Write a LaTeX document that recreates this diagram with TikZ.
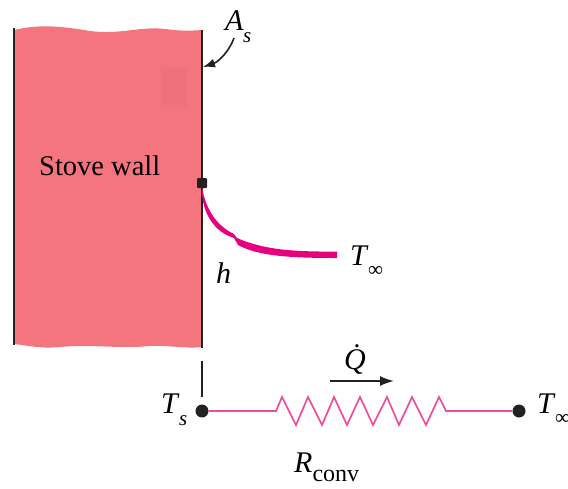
\documentclass[tikz,border=0pt]{standalone}
\usepackage{fontspec}
\setmainfont{Liberation Serif}
\usetikzlibrary{arrows.meta}
\definecolor{wallpink}{HTML}{F5757F}
\definecolor{magentaline}{HTML}{E6007E}
\definecolor{resline}{HTML}{EE4D9B}
\definecolor{inkline}{HTML}{222222}
\newcommand{\symb}[3][-0.3em]{\textit{#2}\kern-0.02em\raisebox{#1}{\fontsize{21}{21}\selectfont #3}}
\tikzset{
  lab/.style={inner sep=0pt,font=\fontsize{30}{30}\selectfont,anchor=base west},
  wallline/.style={draw=inkline,line width=2pt},
  dotnode/.style={circle,fill=inkline,inner sep=0pt,minimum size=#1},
  resistor/.style={draw=resline,line width=1.7pt,line join=miter},
  flow/.style={draw=inkline,line width=1.8pt,-{Latex[length=14pt,width=10pt]}}
}
\begin{document}
\begin{tikzpicture}[x=1pt,y=-1pt]
\useasboundingbox (0,0) rectangle (568,488);
% wall
\fill[wallpink] (14,30) .. controls (40,24) and (60,26) .. (90,31)
  .. controls (120,35) and (140,26) .. (165,29) .. controls (180,31) and (190,31) .. (202,30)
  -- (202,347) .. controls (185,349) and (170,345) .. (150,346)
  .. controls (120,349) and (90,344) .. (60,347) .. controls (40,349) and (25,345) .. (14,344) -- cycle;
\fill[wallpink!97!black] (161,68) rectangle (187,107);
\coordinate (wallTL) at (14,28);
\coordinate (wallBL) at (14,345);
\coordinate (wallTR) at (202,30);
\coordinate (wallBR) at (202,348);
\draw[wallline] (wallTL) -- (wallBL);
\draw[wallline] (wallTR) -- (wallBR);
\node[lab] (stove) at (39,175) {\fontsize{28.5}{28.5}\selectfont Stove wall};
% As
\node[lab] (as) at (225,30) {\symb[-0.4em]{A}{\textit{s}}};
\coordinate (asfrom) at (234,38);
\coordinate (asto) at (203,67);
\draw[draw=inkline,line width=1.6pt,-{Latex[length=12pt,width=9pt]}] (asfrom) .. controls (229,52) and (218,62) .. (asto);
% convection curve
\node[draw=none,fill=inkline,minimum size=10pt,inner sep=0pt,rounded corners=1pt] (surf) at (202,183) {};
\fill[magentaline] (202,187) .. controls (206,212) and (219,227) .. (234,234)
  -- (237,238) .. controls (262,249) and (290,252) .. (337,251.5) -- (337,258)
  .. controls (290,258) and (258,256) .. (238,245) -- (234,238)
  .. controls (214,232) and (201,212) .. (202,187) -- cycle;
\coordinate (curveend) at (337,255);
\node[lab] (tinf) at (350,265) {\symb[-0.38em]{T}{∞}};
\node[lab] (h) at (216,283) {\textit{h}};
% circuit
\coordinate (stubtop) at (202,361);
\node[dotnode=13pt] (ts) at (202,411) {};
\node[dotnode=13pt] (tf) at (519,411) {};
\draw[wallline] (stubtop) -- (202,397);
\draw[resistor] (ts) -- (276,411) -- (282,397) -- (296,425) -- (308,397) -- (322,425) -- (334,397)
  -- (347,425) -- (360,397) -- (373,425) -- (387,397) -- (399,425) -- (412,397) -- (426,425)
  -- (439,397) -- (446,411) -- (tf);
\node[lab] (tslab) at (161,413) {\symb[-0.4em]{T}{\textit{s}}};
\node[lab] (tflab) at (537,413) {\symb[-0.38em]{T}{∞}};
\node[lab] (q) at (344,369) {\textit{\.Q}};
\coordinate (qa) at (330,381);
\coordinate (qb) at (394,381);
\draw[flow] (qa) -- (qb);
\node[lab] (r) at (294,472) {\textit{R}\raisebox{-0.32em}{\fontsize{24}{24}\selectfont conv}};
\end{tikzpicture}
\end{document}
